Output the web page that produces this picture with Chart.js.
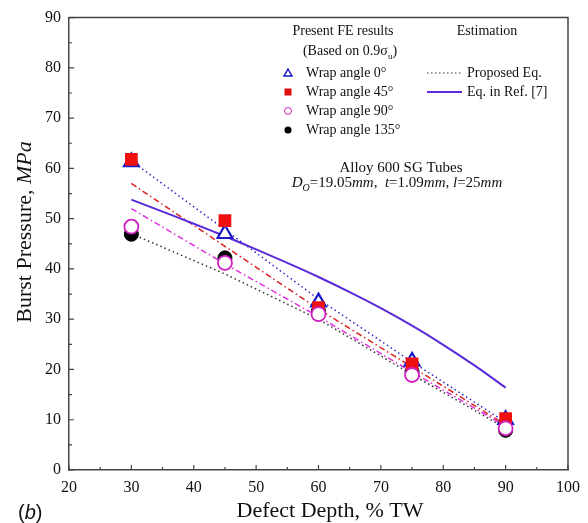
<!DOCTYPE html>
<html lang="en">
<head>
  <meta charset="UTF-8">
  <title>Burst Pressure vs Defect Depth</title>
  <style>
    body { margin: 0; background: #fff; }
    canvas { display: block; }
  </style>
</head>
<body>
<canvas id="burstChart" width="588" height="523"></canvas>

<script src="https://cdn.jsdelivr.net/npm/chart.js"></script>
<script>
  // defect depth (% TW) where FE results were computed
  const depth = [30, 45, 60, 75, 90];

  // present FE results, burst pressure (MPa)
  const wrap0 = [61.3, 47.0, 33.4, 21.6, 10.0];
  const wrap45 = [61.8, 49.6, 32.3, 21.1, 10.2];
  const wrap90 = [48.4, 41.2, 31.0, 18.9, 8.3];
  const wrap135 = [46.9, 42.2, 31.6, 19.5, 7.9];

  // proposed equation estimates, per wrap angle
  const est0 = [61.5, 47.8, 34.0, 21.5, 9.5];
  const est45 = [57.0, 44.5, 32.0, 20.5, 9.0];
  const est90 = [52.0, 41.0, 30.5, 19.5, 8.7];
  const est135 = [47.0, 39.0, 30.0, 19.0, 8.3];

  // equation in Ref. [7]
  const refDepth = [30, 35, 40, 45, 50, 55, 60, 65, 70, 75, 80, 85, 90];
  const refEq = [53.8, 51.4, 49.0, 46.5, 43.9, 41.2, 38.4, 35.4, 32.2, 28.7, 24.9, 20.8, 16.4];

  const xTicks = [20, 30, 40, 50, 60, 70, 80, 90, 100];
  const yTicks = [0, 10, 20, 30, 40, 50, 60, 70, 80, 90];

  const serif = '"Liberation Serif", "Times New Roman", serif';

  function pts(xs, ys) {
    return xs.map((x, i) => ({ x: x, y: ys[i] }));
  }

  function estLine(data, color, dash) {
    return {
      data: pts(depth, data),
      showLine: true,
      borderColor: color,
      borderWidth: 1.5,
      borderDash: dash,
      pointRadius: 0,
      order: 10
    };
  }

  // draws a run of text pieces, each with its own style
  function drawRich(ctx, parts, x, y, align) {
    let total = 0;
    parts.forEach(p => {
      ctx.font = p.font;
      total += ctx.measureText(p.t).width;
    });
    let cx = align === 'center' ? x - total / 2 : x;
    parts.forEach(p => {
      ctx.font = p.font;
      ctx.fillText(p.t, cx, y + (p.dy || 0));
      cx += ctx.measureText(p.t).width;
    });
  }

  const decorPlugin = {
    id: 'decor',
    afterDraw(chart) {
      const ctx = chart.ctx;
      const a = chart.chartArea;
      const xs = chart.scales.x;
      const ys = chart.scales.y;
      ctx.save();

      // top and right frame
      ctx.strokeStyle = '#444';
      ctx.lineWidth = 1.5;
      ctx.beginPath();
      ctx.moveTo(a.left, a.top);
      ctx.lineTo(a.right, a.top);
      ctx.lineTo(a.right, a.bottom);
      ctx.stroke();

      // inward ticks, major and minor
      ctx.lineWidth = 1.2;
      ctx.beginPath();
      for (let v = 20; v <= 100; v += 5) {
        const px = xs.getPixelForValue(v);
        const len = v % 10 === 0 ? 5 : 3;
        ctx.moveTo(px, a.bottom);
        ctx.lineTo(px, a.bottom - len);
      }
      for (let v = 0; v <= 90; v += 5) {
        const py = ys.getPixelForValue(v);
        const len = v % 10 === 0 ? 5 : 3;
        ctx.moveTo(a.left, py);
        ctx.lineTo(a.left + len, py);
      }
      ctx.stroke();

      ctx.fillStyle = '#111';
      ctx.textAlign = 'left';
      ctx.textBaseline = 'alphabetic';

      // axis titles
      drawRich(ctx, [{ t: 'Defect Depth, % TW', font: '22px ' + serif }], 330, 517, 'center');
      ctx.save();
      ctx.translate(31, 232);
      ctx.rotate(-Math.PI / 2);
      drawRich(ctx, [
        { t: 'Burst Pressure, ', font: '22px ' + serif },
        { t: 'MPa', font: 'italic 22px ' + serif }
      ], 0, 0, 'center');
      ctx.restore();

      // panel label
      drawRich(ctx, [
        { t: '(', font: '20px "Liberation Sans", Arial, sans-serif' },
        { t: 'b', font: 'italic 20px "Liberation Sans", Arial, sans-serif' },
        { t: ')', font: '20px "Liberation Sans", Arial, sans-serif' }
      ], 18, 519, 'left');

      // legend headings
      const lf = '14px ' + serif;
      drawRich(ctx, [{ t: 'Present FE results', font: lf }], 343, 35, 'center');
      drawRich(ctx, [
        { t: '(Based on 0.9\u03c3', font: lf },
        { t: 'u', font: '9px ' + serif, dy: 4 },
        { t: ')', font: lf }
      ], 350, 55, 'center');
      drawRich(ctx, [{ t: 'Estimation', font: lf }], 487, 35, 'center');

      // legend rows
      const rows = [
        { y: 73, label: 'Wrap angle 0\u00b0' },
        { y: 92, label: 'Wrap angle 45\u00b0' },
        { y: 111, label: 'Wrap angle 90\u00b0' },
        { y: 130, label: 'Wrap angle 135\u00b0' }
      ];
      const mx = 288;
      // triangle
      ctx.fillStyle = '#fff';
      ctx.strokeStyle = '#1a1acc';
      ctx.lineWidth = 1.5;
      ctx.beginPath();
      ctx.moveTo(mx, rows[0].y - 4);
      ctx.lineTo(mx + 4, rows[0].y + 3);
      ctx.lineTo(mx - 4, rows[0].y + 3);
      ctx.closePath();
      ctx.fill();
      ctx.stroke();
      // square
      ctx.fillStyle = '#e01010';
      ctx.fillRect(mx - 3.5, rows[1].y - 3.5, 7, 7);
      // open circle
      ctx.fillStyle = '#fff';
      ctx.strokeStyle = '#d020c0';
      ctx.lineWidth = 1;
      ctx.beginPath();
      ctx.arc(mx, rows[2].y, 3.5, 0, Math.PI * 2);
      ctx.fill();
      ctx.stroke();
      // filled circle
      ctx.fillStyle = '#000';
      ctx.beginPath();
      ctx.arc(mx, rows[3].y, 3.5, 0, Math.PI * 2);
      ctx.fill();

      ctx.fillStyle = '#111';
      rows.forEach(r => drawRich(ctx, [{ t: r.label, font: lf }], 306, r.y + 4, 'left'));

      // estimation samples
      ctx.strokeStyle = '#333';
      ctx.lineWidth = 1.2;
      ctx.setLineDash([1.5, 2.5]);
      ctx.beginPath();
      ctx.moveTo(427, 73);
      ctx.lineTo(462, 73);
      ctx.stroke();
      ctx.setLineDash([]);
      ctx.strokeStyle = '#5a2ad8';
      ctx.lineWidth = 2;
      ctx.beginPath();
      ctx.moveTo(427, 92);
      ctx.lineTo(462, 92);
      ctx.stroke();
      ctx.fillStyle = '#111';
      drawRich(ctx, [{ t: 'Proposed Eq.', font: lf }], 467, 77, 'left');
      drawRich(ctx, [{ t: 'Eq. in Ref. [7]', font: lf }], 467, 96, 'left');

      // tube annotation
      const af = '15px ' + serif;
      const ai = 'italic 15px ' + serif;
      drawRich(ctx, [{ t: 'Alloy 600 SG Tubes', font: af }], 401, 172, 'center');
      drawRich(ctx, [
        { t: 'D', font: ai },
        { t: 'O', font: 'italic 10px ' + serif, dy: 4 },
        { t: '=19.05', font: af },
        { t: 'mm', font: ai },
        { t: ',  ', font: af },
        { t: 't', font: ai },
        { t: '=1.09', font: af },
        { t: 'mm', font: ai },
        { t: ', ', font: af },
        { t: 'l', font: ai },
        { t: '=25', font: af },
        { t: 'mm', font: ai }
      ], 397, 187, 'center');

      ctx.restore();
    }
  };

  const ctx = document.getElementById('burstChart').getContext('2d');
  new Chart(ctx, {
    type: 'scatter',
    data: {
      datasets: [
        {
          label: 'Wrap angle 90\u00b0',
          data: pts(depth, wrap90),
          pointStyle: 'circle',
          pointRadius: 7,
          backgroundColor: '#fff',
          borderColor: '#d020c0',
          borderWidth: 1.8,
          order: 0
        },
        {
          label: 'Wrap angle 45\u00b0',
          data: pts(depth, wrap45),
          pointStyle: 'rect',
          pointRadius: 9,
          backgroundColor: '#ee1010',
          borderColor: '#ee1010',
          borderWidth: 0,
          order: 1
        },
        {
          label: 'Wrap angle 0\u00b0',
          data: pts(depth, wrap0),
          pointStyle: 'triangle',
          pointRadius: 8.5,
          backgroundColor: '#fff',
          borderColor: '#1a1acc',
          borderWidth: 2.2,
          order: 2
        },
        {
          label: 'Wrap angle 135\u00b0',
          data: pts(depth, wrap135),
          pointStyle: 'circle',
          pointRadius: 7,
          backgroundColor: '#000',
          borderColor: '#000',
          borderWidth: 1,
          order: 3
        },
        estLine(est0, '#2a2acc', [1.5, 3]),
        estLine(est45, '#dd2020', [6, 3, 1.5, 3]),
        estLine(est90, '#e030e0', [6, 3, 1.5, 3]),
        estLine(est135, '#333', [1.5, 3]),
        {
          label: 'Eq. in Ref. [7]',
          data: pts(refDepth, refEq),
          showLine: true,
          borderColor: '#5a2ad8',
          borderWidth: 2,
          tension: 0.3,
          pointRadius: 0,
          order: 9
        }
      ]
    },
    options: {
      responsive: false,
      animation: false,
      layout: { padding: { left: 0, top: 15, right: 18, bottom: 0 } },
      plugins: {
        legend: { display: false },
        tooltip: { enabled: false }
      },
      scales: {
        x: {
          type: 'linear',
          min: 20,
          max: 100,
          afterBuildTicks: s => { s.ticks = xTicks.map(v => ({ value: v })); },
          afterFit: s => { s.height = 53; },
          grid: { display: false, drawTicks: false },
          border: { display: true, color: '#444', width: 1.5 },
          ticks: { color: '#111', font: { family: serif, size: 16 }, padding: 8, maxRotation: 0 }
        },
        y: {
          type: 'linear',
          min: 0,
          max: 90,
          afterBuildTicks: s => { s.ticks = yTicks.map(v => ({ value: v })); },
          afterFit: s => { s.width = 69; },
          grid: { display: false, drawTicks: false },
          border: { display: true, color: '#444', width: 1.5 },
          ticks: { color: '#111', font: { family: serif, size: 16 }, padding: 8 }
        }
      }
    },
    plugins: [decorPlugin]
  });
</script>
</body>
</html>
